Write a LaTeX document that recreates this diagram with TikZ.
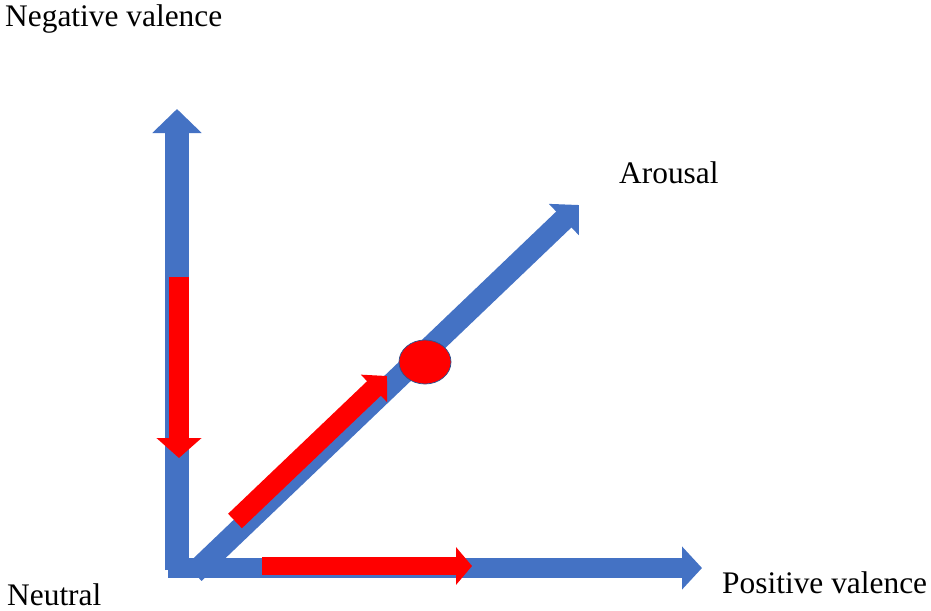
\documentclass[tikz,border=0pt]{standalone}
\usepackage{fontspec}
\setmainfont{Liberation Serif}
\usetikzlibrary{arrows.meta,shapes.geometric}
\definecolor{axisblue}{HTML}{4472C4}
\definecolor{edgeblue}{HTML}{2F528F}

\begin{document}
\begin{tikzpicture}[x=1pt, y=-1pt, line join=miter]
	\useasboundingbox (0,0) rectangle (931,610);
	\tikzstyle{axis}=[draw=axisblue]
	\tikzstyle{move}=[draw=red]
	\tikzstyle{label text}=[inner sep=0, anchor=base west,
		font=\fontsize{31.4}{36}\selectfont]
	% % Points
	% blue axes
	\coordinate (hstart) at (168,568);
	\coordinate (htip) at (702,568);
	\coordinate (vstart) at (177,570);
	\coordinate (vtip) at (177,109);
	\coordinate (dstart) at (194,573);
	\coordinate (dtip) at (579,205);
	% red moves
	\coordinate (rvstart) at (179,277);
	\coordinate (rvtip) at (179,458);
	\coordinate (rhstart) at (262,566);
	\coordinate (rhtip) at (472,566);
	\coordinate (rdstart) at (235,521);
	\coordinate (rdtip) at (387,376);
	% % Axes
	\draw[axis, line width=20pt, -{Triangle[length=20pt,width=42pt]}]
		(hstart) -- (htip);
	\draw[axis, line width=24pt, -{Triangle[length=24pt,width=48pt]}]
		(vstart) -- (vtip);
	\draw[axis, line width=22pt, -{Triangle[length=21pt,width=42pt]}]
		(dstart) -- (dtip);
	% % Moves
	\draw[move, line width=20pt, -{Triangle[length=20pt,width=44pt]}]
		(rvstart) -- (rvtip);
	\draw[move, line width=18pt, -{Triangle[length=16pt,width=37pt]}]
		(rhstart) -- (rhtip);
	\draw[move, line width=20pt, -{Triangle[length=18pt,width=37pt]}]
		(rdstart) -- (rdtip);
	% state
	\node[ellipse, fill=red, draw=edgeblue, line width=0.75pt, inner sep=0,
		  minimum width=52pt, minimum height=44pt] (state) at (425,362) {};
	% % Labels
	\node[label text] (negative) at (5,27) {Negative valence};
	\node[label text] (arousal) at (619,183) {Arousal};
	\node[label text] (positive) at (722,593) {Positive valence};
	\node[label text] (neutral) at (7,605) {Neutral};
\end{tikzpicture}
\end{document}
